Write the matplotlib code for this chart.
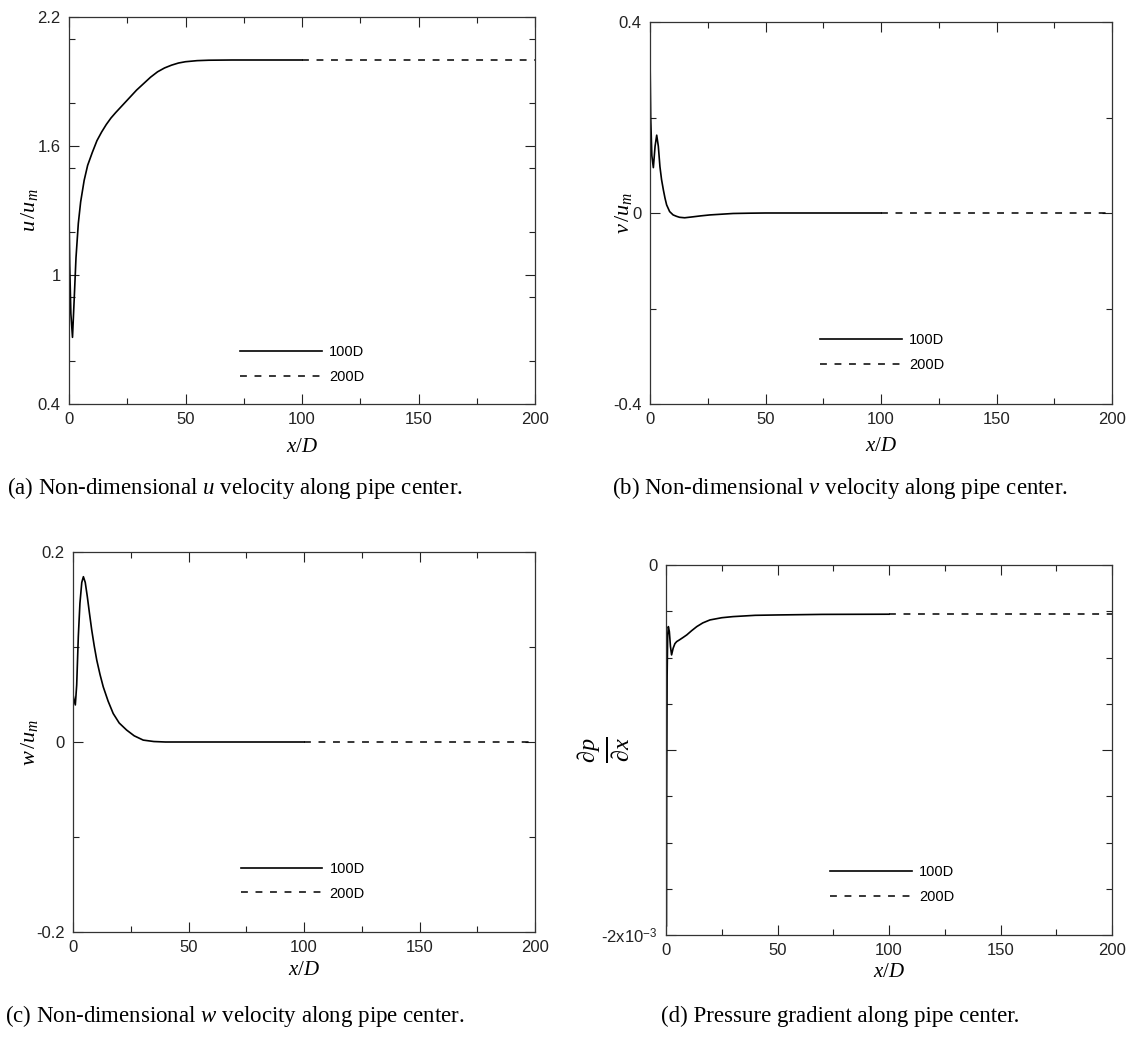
import matplotlib
matplotlib.use('Agg')
import matplotlib.pyplot as plt
from matplotlib.ticker import MultipleLocator, FixedLocator, FixedFormatter

plt.rcParams['font.family'] = ['Liberation Sans', 'DejaVu Sans']
plt.rcParams['mathtext.fontset'] = 'custom'
plt.rcParams['mathtext.rm'] = 'Liberation Serif'
plt.rcParams['mathtext.it'] = 'Liberation Serif:italic'
plt.rcParams['mathtext.sf'] = 'Liberation Sans'

# ---- data ----
# (a) u / u_m along the pipe center
x_u = [0, 0.3, 0.8, 1.5, 2.2, 3.0, 4.0, 5.0, 6.5, 8, 10, 12, 14, 16, 18,
       20, 23, 26, 29, 32, 35, 38, 41, 44, 47, 50, 55, 60, 70, 80, 100]
u_100 = [1.30, 1.05, 0.82, 0.71, 0.88, 1.08, 1.24, 1.34, 1.44, 1.51, 1.57,
         1.625, 1.665, 1.70, 1.73, 1.755, 1.79, 1.825, 1.86, 1.89, 1.92,
         1.945, 1.963, 1.976, 1.986, 1.992, 1.997, 1.999, 2.0, 2.0, 2.0]
u_tail = [2.0, 2.0]

# (b) v / u_m
x_v = [0, 0.3, 0.8, 1.45, 2.2, 2.9, 3.6, 4.3, 5.0, 5.8, 6.5, 7.2, 8.5, 10,
       11.5, 12.8, 15, 18.6, 22, 26, 31, 36, 43, 50, 70, 100]
v_100 = [0.33, 0.20, 0.12, 0.095, 0.14, 0.163, 0.14, 0.097, 0.07, 0.048,
         0.031, 0.017, 0.003, -0.004, -0.007, -0.009, -0.010, -0.008,
         -0.006, -0.004, -0.0025, -0.001, -0.0004, 0.0, 0.0, 0.0]
v_tail = [0.0, 0.0]

# (c) w / u_m
x_w = [0, 0.4, 1.0, 1.6, 2.3, 3.0, 3.8, 4.5, 5.3, 6.2, 7.1, 8.1, 9.2, 10.3,
       11.7, 13.1, 15.2, 17.4, 20, 23.2, 26.5, 30.4, 35, 40, 50, 70, 100]
w_100 = [0.05, 0.045, 0.039, 0.06, 0.111, 0.146, 0.168, 0.174, 0.168,
         0.153, 0.136, 0.118, 0.101, 0.086, 0.071, 0.058, 0.043, 0.030,
         0.020, 0.0126, 0.0065, 0.002, 0.0005, 0.0, 0.0, 0.0, 0.0]
w_tail = [0.0, 0.0]

# (d) dp/dx (units of 1e-3)
x_p = [0.2, 0.3, 0.5, 0.75, 1.05, 1.5, 2.0, 2.5, 3.2, 4.0, 4.8, 6, 7.5, 9.3,
       11.5, 13.8, 16.5, 19.7, 25, 30, 40, 50, 70, 100]
p_100 = [-1.95, -1.2, -0.6, -0.38, -0.333, -0.36, -0.44, -0.486, -0.45,
         -0.425, -0.414, -0.405, -0.393, -0.378, -0.355, -0.333, -0.313,
         -0.297, -0.285, -0.279, -0.272, -0.270, -0.267, -0.266]
p_tail = [-0.266, -0.266]

x_tail = [100, 200]

W, H = 1132, 1037
TEXT_COLOR = '#222222'


def rect(l, r, t, b):
    ''' axes rectangle from pixel edges '''
    return [l / W, 1 - b / H, (r - l) / W, (b - t) / H]


def style_axes(ax):
    ax.set_xlim(0, 200)
    ax.xaxis.set_major_locator(MultipleLocator(50))
    ax.xaxis.set_minor_locator(MultipleLocator(25))
    ax.tick_params(which='both', direction='in', top=True, right=True,
                   labelsize=12, colors=TEXT_COLOR, width=0.8, pad=6)
    ax.tick_params(which='major', length=7)
    ax.tick_params(which='minor', length=4)
    for s in ax.spines.values():
        s.set_linewidth(0.9)
        s.set_color('#333333')
    ax.set_xlabel(r'$x/D$', fontsize=15, color='black')


def draw(ax, x, y, tail, leg_xy):
    ax.plot(x, y, color='black', lw=1.2, label='100D')
    ax.plot([x[-1]] + x_tail[1:], [y[-1]] + tail[1:], color='black', lw=1.1,
            dashes=(4.5, 5), label='200D')
    ax.legend(loc='center left', bbox_to_anchor=leg_xy, frameon=False,
              fontsize=10.5, handlelength=5.6, handletextpad=0.5,
              labelspacing=0.75, borderpad=0, borderaxespad=0)


fig = plt.figure(figsize=(W / 100, H / 100), dpi=100)

# (a)
ax = fig.add_axes(rect(69, 535, 17, 404))
draw(ax, x_u, u_100, u_tail, (0.367, 0.101))
style_axes(ax)
ax.set_ylim(0.4, 2.2)
ax.yaxis.set_major_locator(FixedLocator([0.4, 1.0, 1.6, 2.2]))
ax.yaxis.set_major_formatter(FixedFormatter(['0.4', '1', '1.6', '2.2']))
ax.yaxis.set_minor_locator(MultipleLocator(0.3))
ax.set_ylabel(r'$u\,/u_m$', fontsize=16)
ax.yaxis.set_label_coords(-0.062, 0.5)
ax.xaxis.set_label_coords(0.5, -0.085)

# (b)
ax = fig.add_axes(rect(650, 1112, 22, 404))
draw(ax, x_v, v_100, v_tail, (0.368, 0.134))
style_axes(ax)
ax.set_ylim(-0.4, 0.4)
ax.yaxis.set_major_locator(FixedLocator([-0.4, 0.0, 0.4]))
ax.yaxis.set_major_formatter(FixedFormatter(['-0.4', '0', '0.4']))
ax.yaxis.set_minor_locator(MultipleLocator(0.2))
ax.set_ylabel(r'$v\,/u_m$', fontsize=16)
ax.yaxis.set_label_coords(-0.035, 0.5)
ax.xaxis.set_label_coords(0.5, -0.085)

# (c)
ax = fig.add_axes(rect(73, 535, 552, 932))
draw(ax, x_w, w_100, w_tail, (0.363, 0.134))
style_axes(ax)
ax.set_ylim(-0.2, 0.2)
ax.yaxis.set_major_locator(FixedLocator([-0.2, 0.0, 0.2]))
ax.yaxis.set_major_formatter(FixedFormatter(['-0.2', '0', '0.2']))
ax.yaxis.set_minor_locator(MultipleLocator(0.1))
ax.set_ylabel(r'$w\,/u_m$', fontsize=16)
ax.yaxis.set_label_coords(-0.071, 0.5)
ax.xaxis.set_label_coords(0.5, -0.073)

# (d)
ax = fig.add_axes(rect(666, 1112, 565, 935))
draw(ax, x_p, p_100, p_tail, (0.368, 0.136))
style_axes(ax)
ax.set_ylim(-2.0, 0.0)
ax.yaxis.set_major_locator(FixedLocator([-2.0, -1.0, 0.0]))
ax.yaxis.set_major_formatter(FixedFormatter([r'-2x10$^{\mathsf{-3}}$', '', '0']))
ax.yaxis.set_minor_locator(MultipleLocator(0.25))
ax.set_ylabel(r'$\frac{\partial p}{\partial x}$', fontsize=25)
ax.yaxis.set_label_coords(-0.076, 0.5)
ax.xaxis.set_label_coords(0.5, -0.073)

# captions
cap = {'fontsize': 16.5, 'family': 'Liberation Serif', 'ha': 'center',
       'va': 'center'}
fig.text(235 / W, 1 - 488 / H,
         r'(a) Non-dimensional $u$ velocity along pipe center.', **cap)
fig.text(840 / W, 1 - 488 / H,
         r'(b) Non-dimensional $v$ velocity along pipe center.', **cap)
fig.text(235 / W, 1 - 1016 / H,
         r'(c) Non-dimensional $w$ velocity along pipe center.', **cap)
fig.text(840 / W, 1 - 1016 / H,
         '(d) Pressure gradient along pipe center.', **cap)

fig.savefig('out.png', dpi=100)
